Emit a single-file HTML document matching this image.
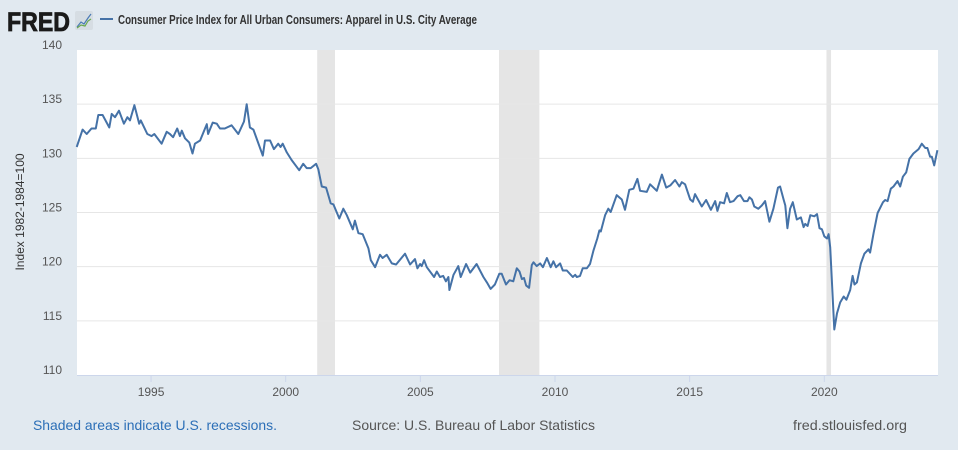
<!DOCTYPE html>
<html><head><meta charset="utf-8"><style>
html,body{margin:0;padding:0;background:#e1e9f0;}
svg{display:block;font-family:"Liberation Sans",Arial,sans-serif;}
</style></head><body>
<svg id="chart" width="958" height="450" viewBox="0 0 958 450">
  <rect x="0" y="0" width="958" height="450" fill="#e1e9f0"/>
  <g>
    <text x="7" y="31" font-size="27" font-weight="bold" fill="#1a1a1a" stroke="#1a1a1a" stroke-width="0.8" textLength="63" lengthAdjust="spacingAndGlyphs">FRED</text>
    <rect x="75" y="11" width="18" height="19" rx="2" fill="#d6dde3"/>
    <polyline points="77,27 81,22 84,24 88,18 91,14" fill="none" stroke="#4a7ab5" stroke-width="1.2"/>
    <polyline points="77,28 81,25 85,26 88,21 91,19" fill="none" stroke="#6aa84f" stroke-width="1.2"/>
  </g>
  <g>
    <line x1="100" y1="19" x2="113" y2="19" stroke="#4572a7" stroke-width="2"/>
    <text x="118" y="24" font-size="13" font-weight="bold" fill="#333" textLength="359" lengthAdjust="spacingAndGlyphs">Consumer Price Index for All Urban Consumers: Apparel in U.S. City Average</text>
  </g>
  <rect x="77" y="50" width="861" height="325" fill="#ffffff"/>
  <g id="recessions"></g>
  <g id="grid"></g>
  <g id="yticks"></g>
  <g id="xticks"></g>
  <path id="series" fill="none" stroke="#4572a7" stroke-width="2" stroke-linejoin="round"/>
  <text transform="translate(24,212) rotate(-90)" text-anchor="middle" font-size="12" fill="#333">Index 1982-1984=100</text>
  <text x="33" y="430" font-size="14" fill="#2c6fb7" textLength="244" lengthAdjust="spacingAndGlyphs">Shaded areas indicate U.S. recessions.</text>
  <text x="352" y="430" font-size="14" fill="#555" textLength="243" lengthAdjust="spacingAndGlyphs">Source: U.S. Bureau of Labor Statistics</text>
  <text x="793" y="430" font-size="14" fill="#555" textLength="114" lengthAdjust="spacingAndGlyphs">fred.stlouisfed.org</text>
</svg>
<script>
const dates = [1992.24,1992.46,1992.61,1992.79,1992.95,1993.04,1993.20,1993.45,1993.54,1993.66,1993.81,1993.99,1994.12,1994.22,1994.38,1994.56,1994.62,1994.86,1995.02,1995.12,1995.39,1995.58,1995.70,1995.82,1995.97,1996.07,1996.14,1996.26,1996.42,1996.54,1996.63,1996.82,1997.07,1997.12,1997.29,1997.44,1997.56,1997.74,1997.99,1998.24,1998.45,1998.55,1998.67,1998.80,1999.15,1999.23,1999.42,1999.56,1999.72,1999.81,1999.89,2000.04,2000.22,2000.50,2000.65,2000.78,2000.93,2001.13,2001.21,2001.34,2001.50,2001.67,2001.77,2001.99,2002.14,2002.27,2002.49,2002.57,2002.70,2002.86,
2003.07,2003.16,2003.32,2003.50,2003.60,2003.75,2003.94,2004.10,2004.43,2004.62,2004.80,2004.89,2004.99,2005.05,2005.14,2005.24,2005.51,2005.61,2005.73,2005.85,2005.95,2006.04,2006.08,2006.23,2006.41,2006.50,2006.70,2006.85,2007.09,2007.34,2007.47,2007.61,2007.77,2007.93,2008.02,2008.18,2008.31,2008.45,2008.58,2008.68,2008.77,2008.85,2008.93,2009.04,2009.14,2009.20,2009.32,2009.45,2009.55,2009.70,2009.84,2009.94,2010.04,2010.19,2010.29,2010.44,2010.66,2010.75,2010.81,2010.93,2011.03,2011.18,2011.30,2011.43,2011.57,2011.65,2011.70,2011.86,2011.98,2012.07,2012.29,2012.48,2012.60,2012.76,2012.91,2013.06,2013.16,2013.41,2013.53,
2013.78,2013.97,2014.13,2014.28,2014.46,2014.62,2014.71,2014.83,2015.02,2015.12,2015.20,2015.45,2015.61,2015.79,2015.95,2016.03,2016.13,2016.28,2016.38,2016.50,2016.63,2016.78,2016.88,2017.02,2017.15,2017.22,2017.31,2017.40,2017.55,2017.68,2017.80,2017.96,2018.11,2018.28,2018.36,2018.49,2018.55,2018.63,2018.73,2018.83,2018.98,2019.13,2019.23,2019.29,2019.38,2019.48,2019.63,2019.73,2019.82,2019.91,2020.00,2020.10,2020.16,2020.22,2020.37,2020.47,2020.59,2020.72,2020.82,2020.96,2021.05,2021.12,2021.21,2021.36,2021.49,2021.64,2021.70,2021.83,2021.98,2022.18,2022.26,2022.35,2022.47,2022.57,2022.72,2022.82,2022.92,2023.04,2023.16,2023.31,2023.50,2023.62,2023.75,2023.83,2023.93,2023.99,2024.08,2024.20];
const values = [131.05,132.65,132.25,132.75,132.75,134.0,134.0,132.85,134.1,133.8,134.4,133.2,133.8,133.5,134.9,133.2,133.5,132.25,132.05,132.25,131.35,132.45,132.25,131.95,132.75,132.05,132.55,131.85,131.45,130.45,131.35,131.65,133.15,132.25,133.3,133.2,132.75,132.75,133.05,132.25,133.4,135.0,132.85,132.65,130.25,131.65,131.65,130.85,131.35,131.05,131.35,130.55,129.85,128.9,129.5,129.1,129.1,129.5,129.0,127.4,127.3,125.85,125.75,124.45,125.35,124.75,123.45,124.25,123.1,123.0,
121.7,120.6,119.95,121.1,120.8,121.1,120.3,120.2,121.2,120.2,120.7,119.85,120.25,120.05,120.6,119.95,119.05,119.55,119.05,119.15,118.65,119.05,117.85,119.25,120.05,119.05,120.25,119.45,120.25,119.05,118.55,117.95,118.35,119.35,119.35,118.35,118.75,118.65,119.85,119.55,118.85,118.95,118.25,118.05,120.15,120.4,120.05,120.3,119.95,120.8,119.95,120.5,119.95,120.3,119.65,119.65,119.05,119.25,119.05,119.15,119.85,119.85,120.25,121.5,122.6,123.35,123.25,124.75,125.35,125.05,126.6,126.2,125.25,127.1,127.2,128.1,127.0,126.9,127.6,
127.0,128.5,127.3,127.5,128.0,127.4,127.8,127.6,126.2,126.0,126.7,125.55,126.15,125.25,126.05,125.15,125.95,125.85,126.8,125.95,126.05,126.5,126.6,126.05,126.05,126.4,126.2,125.55,125.35,125.65,126.05,124.15,125.35,127.3,127.4,126.2,125.65,123.55,125.35,125.95,124.35,124.55,123.65,123.95,123.75,124.75,124.65,124.85,123.55,123.45,122.8,122.6,123.0,121.8,114.2,115.7,116.7,117.25,116.95,117.85,119.15,118.35,118.55,120.3,121.2,121.6,121.3,123.1,124.95,125.95,126.15,126.05,127.2,127.4,127.9,127.4,128.3,128.7,129.95,130.45,130.85,131.35,130.95,130.95,130.15,130.15,129.35,130.75];
const recStart = [2001.17, 2007.92, 2020.08];
const recEnd = [2001.83, 2009.42, 2020.25];
const yTicks = [110,115,120,125,130,135,140];
const xTicks = [1995,2000,2005,2010,2015,2020];

const NS = "http://www.w3.org/2000/svg";
const L = 77, R = 938, T = 50, B = 375;
const x0 = 2020 - (824.3 - L) / 26.93, x1 = 2020 + (R - 824.3) / 26.93;
function xs(d){ return L + (d - x0) / (x1 - x0) * (R - L); }
function ys(v){ return B - (v - 110) / 30 * (B - T); }
function mk(tag, attrs, parent){
  const el = document.createElementNS(NS, tag);
  for (const k in attrs) el.setAttribute(k, attrs[k]);
  parent.appendChild(el);
  return el;
}
const rg = document.getElementById('recessions');
for (let i = 0; i < recStart.length; i++){
  const r = mk('rect', {x: xs(recStart[i]), y: T, width: xs(recEnd[i]) - xs(recStart[i]), height: B - T, fill: '#e5e5e5'}, rg);
  
  
}
const gg = document.getElementById('grid');
const yg = document.getElementById('yticks');
for (const t of yTicks){
  if (t > 110 && t < 140){
    const ln = mk('line', {x1: L, x2: R, y1: ys(t), y2: ys(t), stroke: '#e6e6e6', 'stroke-width': 1}, gg);
    
    
  }
  const tx = mk('text', {x: 62, y: ys(t) - 1, 'text-anchor': 'end', 'font-size': 12, fill: '#555'}, yg);
  tx.textContent = t;
  
  
}
const xg = document.getElementById('xticks');
const ax = mk('line', {x1: L, x2: R, y1: B + 0.5, y2: B + 0.5, stroke: '#ccd6eb', 'stroke-width': 1}, xg);


for (const t of xTicks){
  const tk = mk('line', {x1: xs(t), x2: xs(t), y1: B, y2: B + 7, stroke: '#ccd6eb', 'stroke-width': 1}, xg);
  
  
  const tx = mk('text', {x: xs(t), y: 396, 'text-anchor': 'middle', 'font-size': 12, fill: '#555'}, xg);
  tx.textContent = t;
  
  
}
let d = '';
for (let i = 0; i < dates.length; i++){
  d += (i ? 'L' : 'M') + xs(dates[i]).toFixed(1) + ',' + ys(values[i]).toFixed(1);
}
document.getElementById('series').setAttribute('d', d);
</script>
</body></html>
